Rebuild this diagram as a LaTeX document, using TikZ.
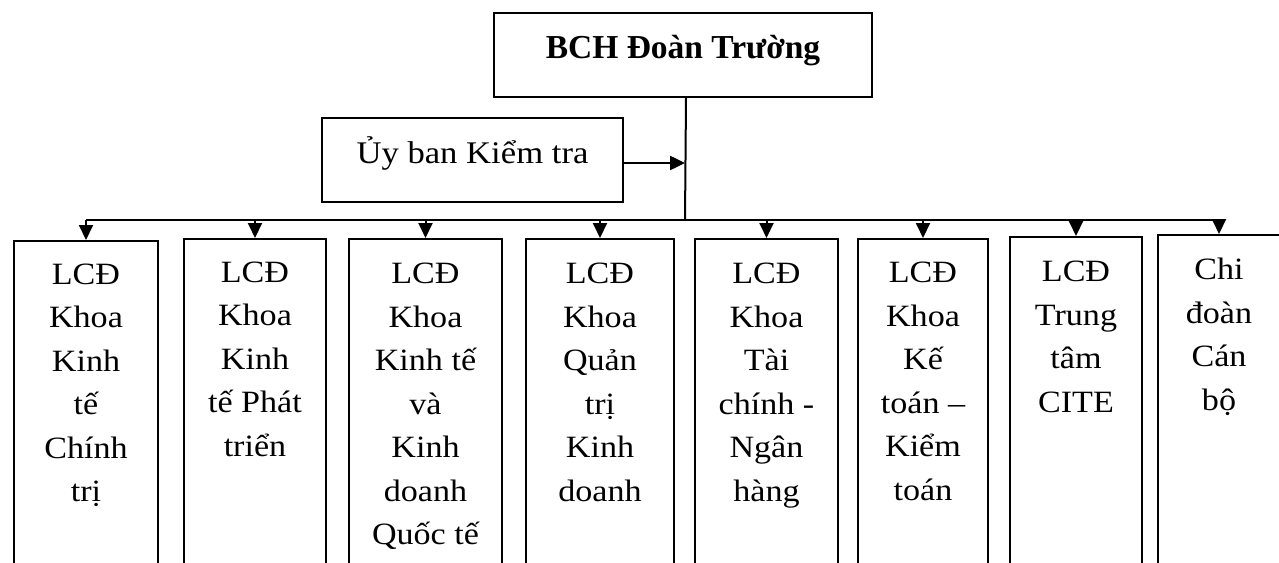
\documentclass[tikz,border=0pt]{standalone}
\usepackage{fontspec}
\setmainfont{Liberation Serif}[FakeStretch=1.1]
\newfontfamily\titlefont{Liberation Serif}
\usetikzlibrary{arrows.meta}
\begin{document}
\begin{tikzpicture}[x=1pt,y=-1pt,
  line width=2pt,
  boxshape/.style={draw=black, rectangle, inner sep=0pt, anchor=north west},
  lbl/.style={align=center, inner sep=0pt, anchor=north, font=\fontsize{31}{43.5}\selectfont},
  arr/.style={-{Triangle[length=15pt,width=14pt]}},
]
\useasboundingbox (0,0) rectangle (1279,562);
\clip (0,0) rectangle (1279,562);
\fill[white] (0,0) rectangle (1279,562);

% top box
\node[boxshape, minimum width=378pt, minimum height=84pt, text height=25pt, text depth=19pt,
      font=\titlefont\bfseries\fontsize{33.5}{38}\selectfont] (bch) at (493,12) {BCH Đoàn Trường};
% Uy ban box
\node[boxshape, minimum width=301pt, minimum height=84pt, text height=25pt, text depth=19pt,
      font=\fontsize{31.5}{38}\selectfont] (uy) at (321,117) {Ủy ban Kiểm tra};

% lower boxes
\node[boxshape, minimum width=144pt, minimum height=400pt] (b1) at (13,240) {};
\node[boxshape, minimum width=142pt, minimum height=400pt] (b2) at (183,238) {};
\node[boxshape, minimum width=153pt, minimum height=400pt] (b3) at (348,238) {};
\node[boxshape, minimum width=148pt, minimum height=400pt] (b4) at (525,238) {};
\node[boxshape, minimum width=143pt, minimum height=400pt] (b5) at (694,238) {};
\node[boxshape, minimum width=130pt, minimum height=400pt] (b6) at (857,238) {};
\node[boxshape, minimum width=132pt, minimum height=400pt] (b7) at (1009,236) {};
\node[boxshape, minimum width=122pt, minimum height=400pt] (b8) at (1157,234) {};

\node[lbl] (t1) at ([yshift=-22.5pt]b1.north) {LCĐ\\Khoa\\Kinh\\tế\\Chính\\trị};
\node[lbl] (t2) at ([yshift=-22.5pt]b2.north) {LCĐ\\Khoa\\Kinh\\tế Phát\\triển};
\node[lbl] (t3) at ([yshift=-24pt]b3.north) {LCĐ\\Khoa\\Kinh tế\\và\\Kinh\\doanh\\Quốc tế};
\node[lbl] (t4) at ([yshift=-24pt]b4.north) {LCĐ\\Khoa\\Quản\\trị\\Kinh\\doanh};
\node[lbl] (t5) at ([yshift=-24pt]b5.north) {LCĐ\\Khoa\\Tài\\chính -\\Ngân\\hàng};
\node[lbl] (t6) at ([yshift=-23pt]b6.north) {LCĐ\\Khoa\\Kế\\toán –\\Kiểm\\toán};
\node[lbl] (t7) at ([yshift=-24pt]b7.north) {LCĐ\\Trung\\tâm\\CITE};
\node[lbl] (t8) at ([yshift=-23pt]b8.north) {Chi\\đoàn\\Cán\\bộ};

% trunk
\coordinate (trunkTop) at ([xshift=3pt]bch.south);
\coordinate (hl) at (685,220);
\draw (trunkTop) -- (hl);
\draw (b1.north |- hl) -- (b8.north |- hl);

% Uy ban arrow
\coordinate (uyOut) at ([yshift=-3pt]uy.east);
\draw[arr, line width=2.5pt] (uyOut) -- (uyOut -| hl);

% down arrows
\foreach \b in {b1,b2,b3,b4,b5,b6,b7,b8}{
  \draw[arr] (\b.north |- hl) -- (\b.north);
}
\end{tikzpicture}
\end{document}
